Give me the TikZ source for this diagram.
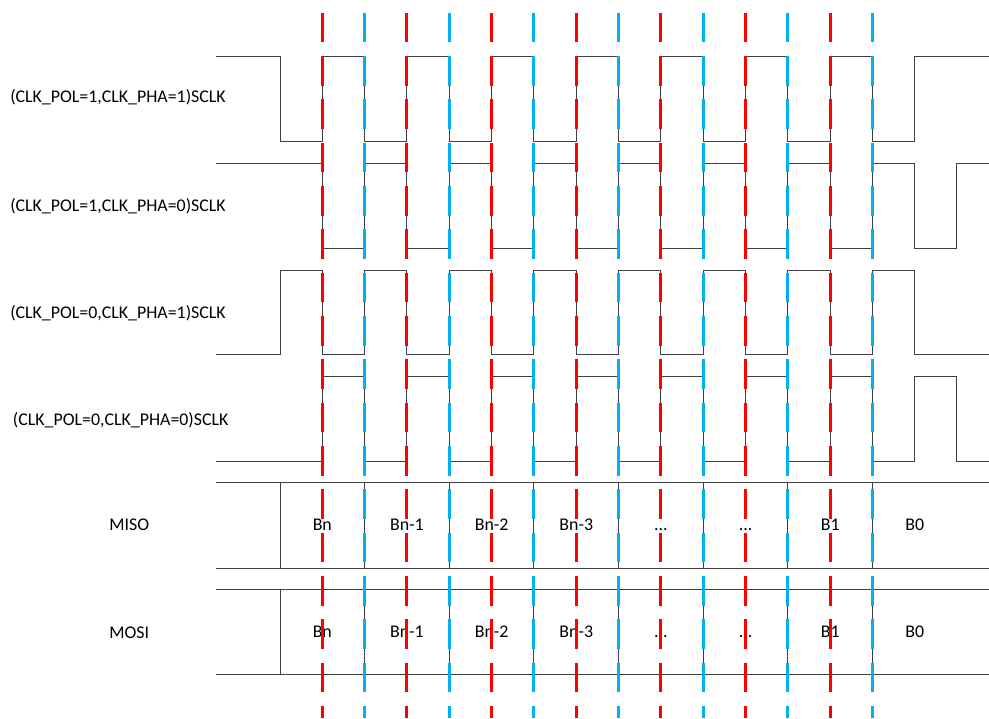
\documentclass[tikz,border=0pt]{standalone}
\usepackage{fontspec}
\setmainfont{Carlito}
\definecolor{EdgeRed}{RGB}{255,0,0}
\definecolor{EdgeBlue}{RGB}{0,176,240}
\definecolor{WireGray}{RGB}{64,64,64}
\newcommand{\threedots}{...}
\tikzset{
  wave/.style={WireGray,line width=0.75pt},
  edgeline/.style={line width=2.25pt,dash pattern=on 22.3pt off 10.2pt},
  signame/.style={font=\fontsize{13.4}{16}\selectfont,inner sep=0pt,anchor=base west},
  bitname/.style={font=\fontsize{13.4}{16}\selectfont,inner sep=0pt,anchor=base},
}

\begin{document}
\begin{tikzpicture}[x=0.75pt,y=-0.75pt]
\useasboundingbox (0,0) rectangle (989,718);
% signal names
\node[signame] (pol1pha1) at (10,102.3) {(CLK\_POL=1,CLK\_PHA=1)SCLK};
\node[signame] (pol1pha0) at (10,211.3) {(CLK\_POL=1,CLK\_PHA=0)SCLK};
\node[signame] (pol0pha1) at (10,318.3) {(CLK\_POL=0,CLK\_PHA=1)SCLK};
\node[signame] (pol0pha0) at (12.7,425) {(CLK\_POL=0,CLK\_PHA=0)SCLK};
\node[bitname] (miso) at (129.2,530) {MISO};
\node[bitname] (mosi) at (129.2,638.3) {MOSI};
% SCLK waveforms
\draw[wave] (216,56.7) -- (280,56.7) -- (280,141.7)
  foreach \k in {0,...,6} {-- ({322.3+84.65*\k},141.7) -- ({322.3+84.65*\k},56.7)
    -- ({364.6+84.65*\k},56.7) -- ({364.6+84.65*\k},141.7)}
  -- (914.3,141.7) -- (914.3,56.7) -- (989,56.7);
\draw[wave] (216,163) -- (322.3,163)
  foreach \k in {0,...,6} {-- ({322.3+84.65*\k},163) -- ({322.3+84.65*\k},248.3)
    -- ({364.6+84.65*\k},248.3) -- ({364.6+84.65*\k},163)}
  -- (914.3,163) -- (914.3,248.3) -- (956.7,248.3) -- (956.7,163) -- (989,163);
\draw[wave] (216,354.7) -- (280,354.7) -- (280,270)
  foreach \k in {0,...,6} {-- ({322.3+84.65*\k},270) -- ({322.3+84.65*\k},354.7)
    -- ({364.6+84.65*\k},354.7) -- ({364.6+84.65*\k},270)}
  -- (914.3,270) -- (914.3,354.7) -- (989,354.7);
\draw[wave] (216,461.3) -- (322.3,461.3)
  foreach \k in {0,...,6} {-- ({322.3+84.65*\k},461.3) -- ({322.3+84.65*\k},376.3)
    -- ({364.6+84.65*\k},376.3) -- ({364.6+84.65*\k},461.3)}
  -- (914.3,461.3) -- (914.3,376.3) -- (956.7,376.3) -- (956.7,461.3) -- (989,461.3);
% data rows
\foreach \ytop/\ybot in {482.7/568.3,589/674.7} {
  \draw[wave] (216,\ytop) -- (989,\ytop) (216,\ybot) -- (989,\ybot) (280,\ytop) -- (280,\ybot);
  \foreach \k in {0,...,6}
    \draw[wave] ({364.6+84.65*\k},\ytop) -- ({364.6+84.65*\k},\ybot);
}
\foreach \t [count=\i from 0] in {Bn,Bn-1,Bn-2,Bn-3,\threedots,\threedots,B1,B0} {
  \node[bitname] (misobit\i) at ({322.3+84.65*\i},530) {\t};
  \node[bitname] (mosibit\i) at ({322.3+84.65*\i},637.7) {\t};
}
% sampling edges
\foreach \k in {0,...,6} {
  \draw[edgeline,EdgeRed] ({322.3+84.65*\k},12.7) -- ({322.3+84.65*\k},718);
  \draw[edgeline,EdgeBlue] ({364.6+84.65*\k},12.7) -- ({364.6+84.65*\k},718);
}
\end{tikzpicture}
\end{document}
